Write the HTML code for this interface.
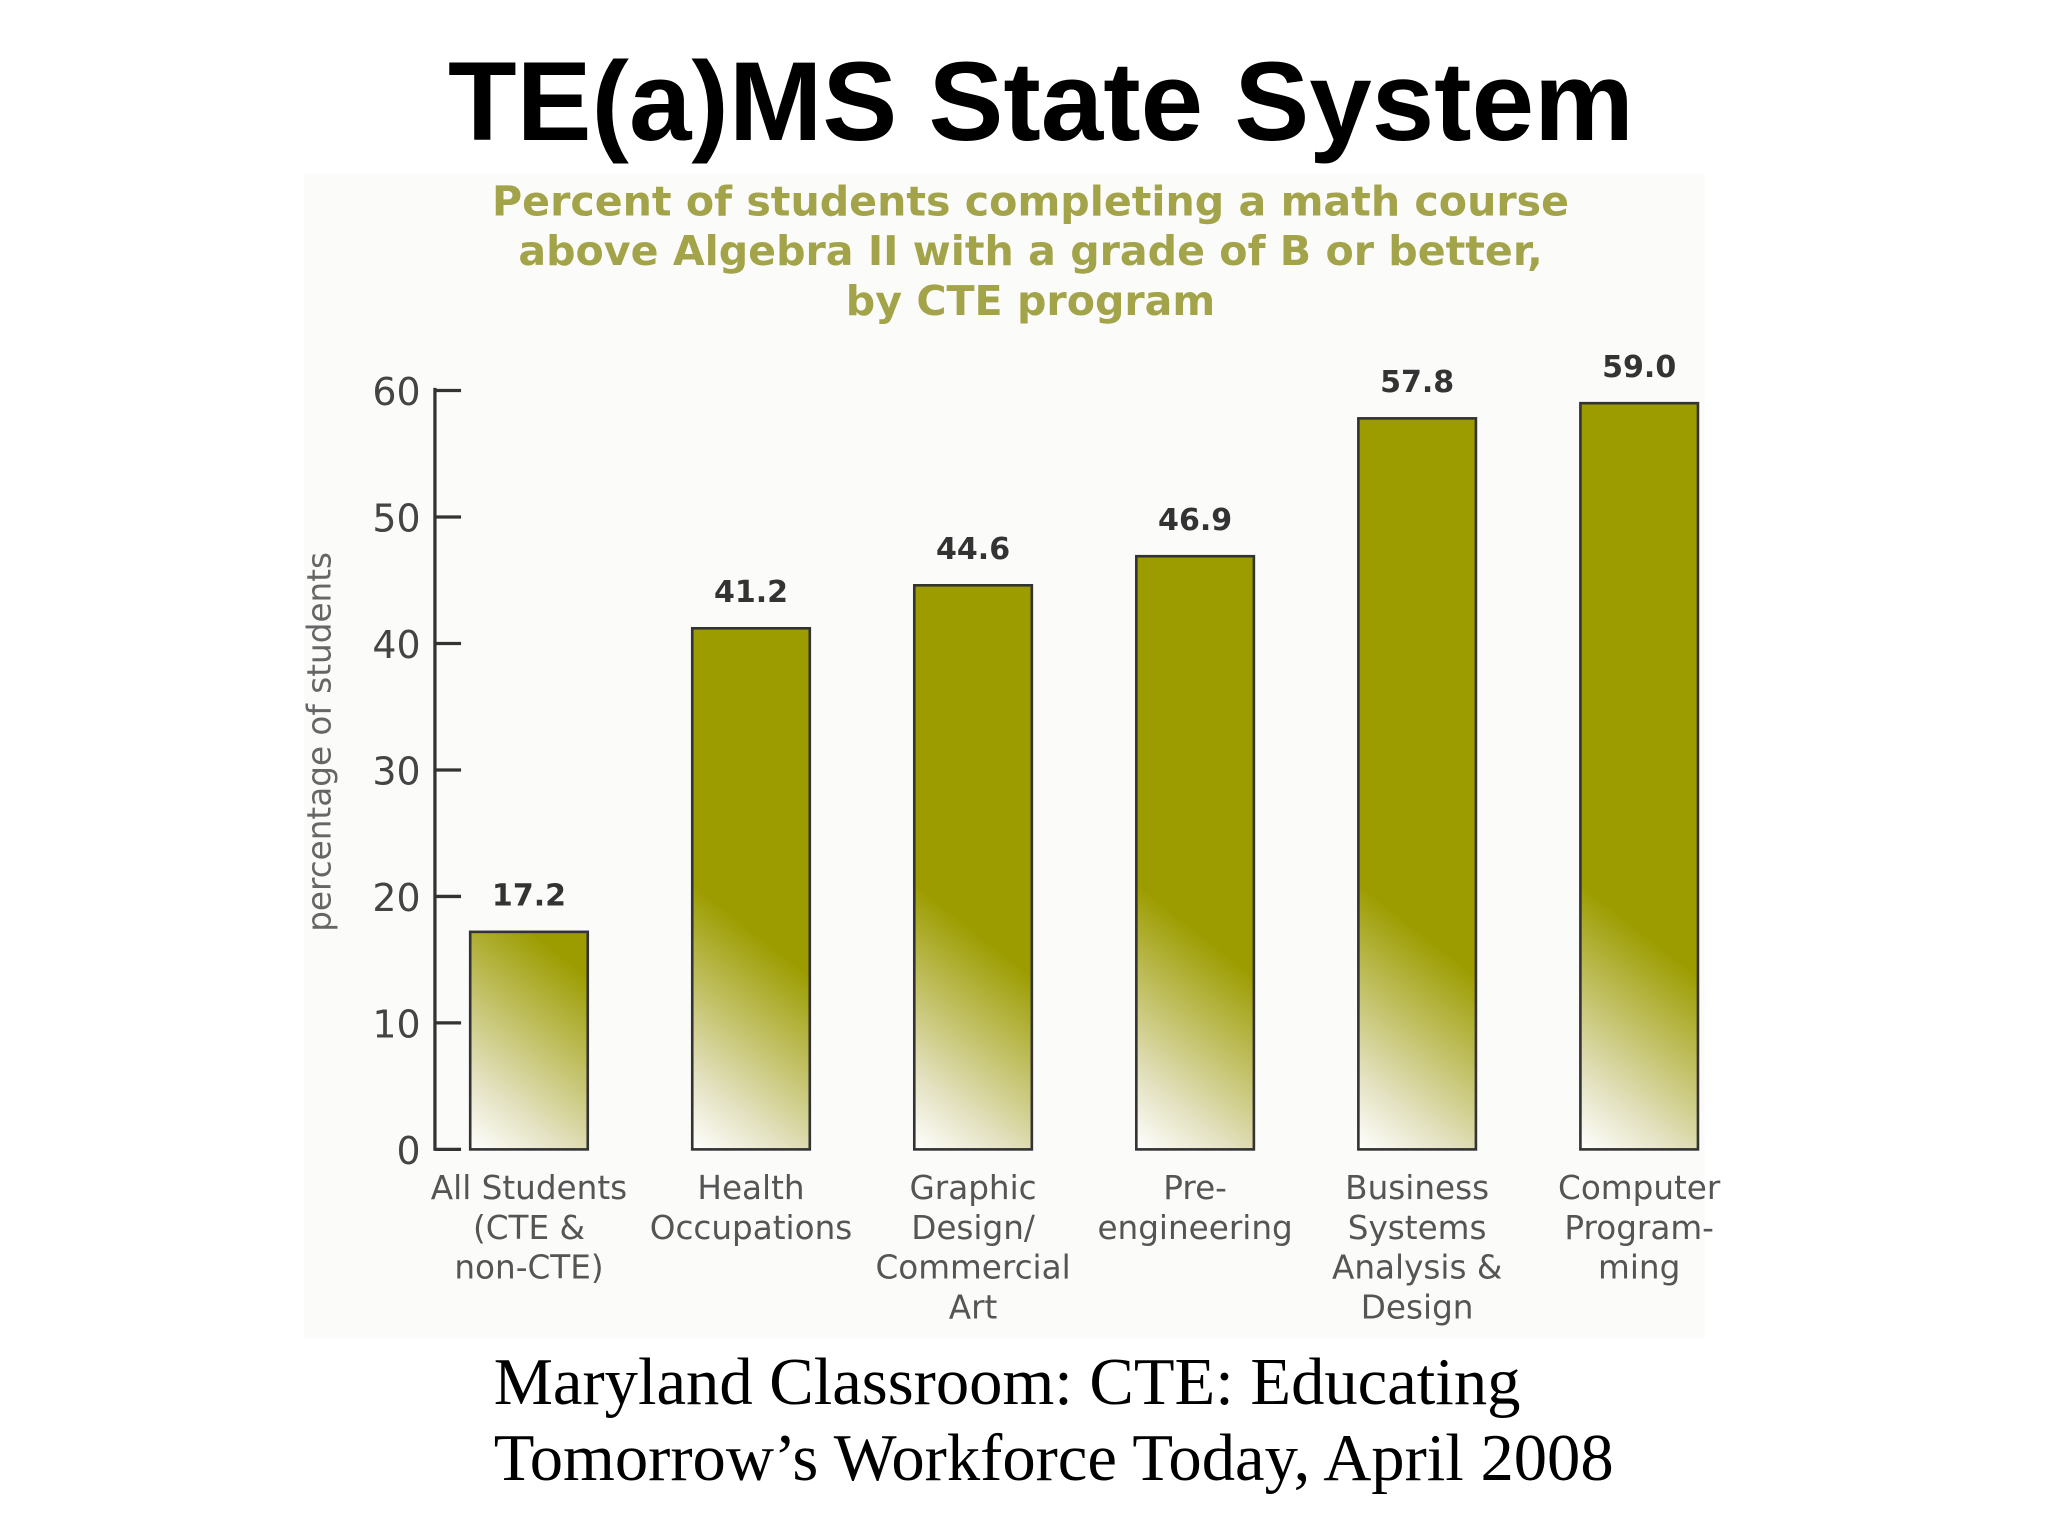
<!DOCTYPE html>
<html><head><meta charset="utf-8"><style>
html,body{margin:0;padding:0;background:#fff;}
svg{display:block;}
</style></head><body>
<svg id="chart" width="2048" height="1536" viewBox="0 0 1568 1176" xmlns="http://www.w3.org/2000/svg">
<defs id="defs"></defs>
<text x="797" y="107" text-anchor="middle" font-family="Liberation Sans, sans-serif" font-weight="bold" font-size="86" fill="#000">TE(a)MS State System</text>
<rect x="233" y="133" width="1072" height="892" fill="#fbfbfa"/>
<g font-family="DejaVu Sans, sans-serif" font-weight="bold" font-size="31.5" fill="#a3a44a" text-anchor="middle">
<text x="789" y="165">Percent of students completing a math course</text>
<text x="789" y="203">above Algebra II with a grade of B or better,</text>
<text x="789" y="241">by CTE program</text>
</g>
<text transform="translate(253,568) rotate(-90)" text-anchor="middle" font-family="DejaVu Sans, sans-serif" font-size="25" fill="#666">percentage of students</text>
<g id="axis"></g>
<g id="bars"></g>
<g id="labels"></g>
<g font-family="Liberation Serif, serif" font-size="51" fill="#000">
<text x="378" y="1075">Maryland Classroom: CTE: Educating</text>
<text x="378" y="1133">Tomorrow’s Workforce Today, April 2008</text>
</g>
</svg>
<script>
const categories = [["All Students","(CTE &","non-CTE)"],["Health","Occupations"],["Graphic","Design/","Commercial","Art"],["Pre-","engineering"],["Business","Systems","Analysis &","Design"],["Computer","Program-","ming"]];
const values = [17.2, 41.2, 44.6, 46.9, 57.8, 59.0];
const valueLabels = ["17.2","41.2","44.6","46.9","57.8","59.0"];
const yTicks = [0,10,20,30,40,50,60];

const NS = "http://www.w3.org/2000/svg";
const base = 880, top60 = 299;
function y(v){ return base - (base - top60) * v / 60; }
const centers0 = 405, step = 170;
function xc(i){ return centers0 + step * i; }
const bw = 90;
function mk(tag, attrs, parent){ const e = document.createElementNS(NS, tag); for (const k in attrs) e.setAttribute(k, attrs[k]); parent.appendChild(e); return e; }

const axis = document.getElementById('axis');
const axl = mk('line', {x1:333, y1:y(60)-2, x2:333, y2:base+1, stroke:'#333', 'stroke-width':2.5}, axis);


yTicks.forEach(t => {
  const tk = mk('line', {x1:333, y1:y(t), x2:353, y2:y(t), stroke:'#333', 'stroke-width':2.5}, axis);
  
  
  const tl = mk('text', {x:322, y:y(t)+11, 'text-anchor':'end', 'font-family':'DejaVu Sans, sans-serif', 'font-size':29, fill:'#444'}, axis);
  tl.textContent = t;
  
  
});

const defs = document.getElementById('defs');
const bars = document.getElementById('bars');
const labels = document.getElementById('labels');
values.forEach((v, i) => {
  const x0 = xc(i) - bw/2;
  const g = mk('linearGradient', {id:'g'+i, gradientUnits:'userSpaceOnUse', x1:x0, y1:base, x2:x0+bw*1.1, y2:base-bw*1.4}, defs);
  mk('stop', {offset:'0', 'stop-color':'#ffffff'}, g);
  mk('stop', {offset:'0.3', 'stop-color':'#e2e0bd'}, g);
  mk('stop', {offset:'1', 'stop-color':'#9c9c00'}, g);
  const r = mk('rect', {x:x0, y:y(v), width:bw, height:base - y(v), fill:'url(#g'+i+')', stroke:'#333', 'stroke-width':2}, bars);
  
  
  const vl = mk('text', {x:xc(i), y:y(v)-20, 'text-anchor':'middle', 'font-family':'DejaVu Sans, sans-serif', 'font-weight':'bold', 'font-size':23, fill:'#333'}, bars);
  vl.textContent = valueLabels[i];
  
  
  categories[i].forEach((line, j) => {
    const cl = mk('text', {x:xc(i), y:918 + j*30.5, 'text-anchor':'middle', 'font-family':'DejaVu Sans, sans-serif', 'font-size':25, fill:'#555'}, labels);
    cl.textContent = line;
    
    
  });
});
</script>
</body></html>
